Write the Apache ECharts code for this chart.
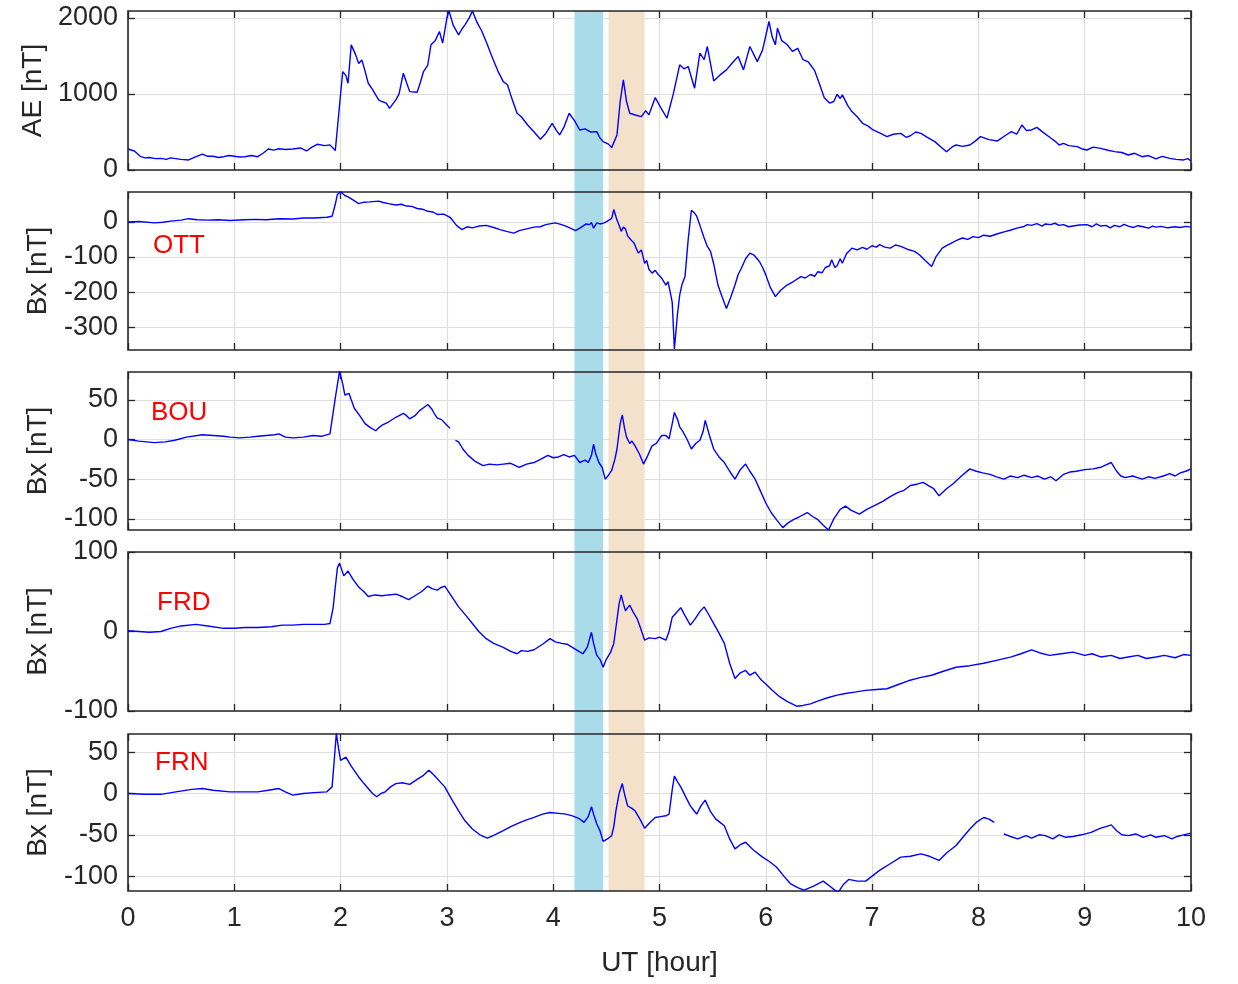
<!DOCTYPE html>
<html><head><meta charset="utf-8">
<script src="https://cdn.jsdelivr.net/npm/echarts@6/dist/echarts.min.js"></script>
<style>html,body{margin:0;padding:0;background:#fff}#c{width:1238px;height:984px}</style>
</head><body><div id="c"></div>
<script>
// ---------------- data ----------------
const AE = [[0,276],[0.06,250],[0.12,175],[0.16,160],[0.2,165],[0.26,150],[0.31,153],[0.36,140],[0.4,160],[0.45,150],[0.5,140],[0.57,132],[0.63,170],[0.70,210],[0.75,180],[0.8,180],[0.85,165],[0.9,175],[0.95,190],[1.0,180],[1.05,170],[1.1,175],[1.16,190],[1.22,175],[1.27,220],[1.32,276],[1.37,262],[1.42,280],[1.48,270],[1.55,276],[1.62,290],[1.68,250],[1.73,300],[1.78,338],[1.85,320],[1.9,330],[1.95,255],[1.98,700],[2.02,1294],[2.05,1240],[2.07,1140],[2.1,1645],[2.14,1520],[2.17,1400],[2.2,1447],[2.23,1300],[2.26,1140],[2.3,1060],[2.33,987],[2.36,920],[2.39,900],[2.43,880],[2.46,811],[2.52,921],[2.55,1000],[2.59,1272],[2.62,1150],[2.65,1030],[2.72,1022],[2.75,1150],[2.78,1294],[2.82,1380],[2.85,1645],[2.89,1700],[2.93,1820],[2.96,1667],[3.0,2000],[3.02,2092],[3.06,1900],[3.11,1776],[3.14,1850],[3.17,1908],[3.21,2000],[3.24,2092],[3.28,1950],[3.33,1820],[3.38,1650],[3.43,1469],[3.48,1300],[3.53,1162],[3.57,1120],[3.6,987],[3.66,746],[3.7,700],[3.76,592],[3.82,500],[3.88,404],[3.93,480],[3.99,614],[4.03,520],[4.06,461],[4.1,560],[4.15,746],[4.2,650],[4.25,526],[4.3,540],[4.35,500],[4.41,504],[4.44,420],[4.47,373],[4.52,340],[4.55,294],[4.60,461],[4.63,900],[4.66,1184],[4.69,900],[4.72,746],[4.78,720],[4.83,702],[4.87,780],[4.9,724],[4.96,952],[5.0,850],[5.07,680],[5.13,1000],[5.19,1382],[5.23,1330],[5.27,1360],[5.33,1075],[5.38,1535],[5.42,1450],[5.45,1623],[5.51,1171],[5.57,1250],[5.63,1316],[5.68,1400],[5.74,1491],[5.79,1316],[5.85,1623],[5.92,1425],[5.97,1579],[6.03,1952],[6.06,1750],[6.09,1645],[6.11,1864],[6.15,1700],[6.2,1650],[6.25,1560],[6.3,1600],[6.35,1450],[6.4,1420],[6.46,1306],[6.5,1150],[6.55,950],[6.6,880],[6.64,900],[6.67,996],[6.7,940],[6.72,987],[6.77,850],[6.81,768],[6.86,700],[6.91,614],[6.96,580],[7.01,526],[7.08,480],[7.14,439],[7.2,470],[7.27,482],[7.32,430],[7.36,450],[7.41,500],[7.46,482],[7.52,430],[7.59,373],[7.65,300],[7.70,241],[7.75,300],[7.79,329],[7.85,310],[7.92,329],[7.97,380],[8.02,439],[8.1,400],[8.18,382],[8.25,450],[8.31,504],[8.36,470],[8.41,592],[8.45,520],[8.5,526],[8.55,560],[8.6,504],[8.68,420],[8.72,380],[8.76,329],[8.8,350],[8.85,320],[8.93,307],[8.97,280],[9.02,263],[9.08,300],[9.15,285],[9.22,260],[9.28,241],[9.35,230],[9.41,197],[9.47,220],[9.54,175],[9.6,190],[9.67,145],[9.73,180],[9.8,153],[9.86,140],[9.93,132],[9.97,150],[10,118]];
const OTT = [[0,0],[0.1,1],[0.25,-3],[0.33,-1],[0.4,2],[0.5,5],[0.57,9],[0.65,6],[0.75,5],[0.85,6],[0.96,4],[1.1,6],[1.2,7],[1.3,6],[1.42,9],[1.55,8],[1.65,11],[1.75,11],[1.87,13],[1.92,16],[1.95,50],[1.97,78],[2.0,86],[2.04,75],[2.07,71],[2.12,62],[2.17,52],[2.22,56],[2.27,57],[2.36,59],[2.4,55],[2.45,52],[2.52,48],[2.57,50],[2.62,45],[2.67,44],[2.72,38],[2.77,36],[2.82,30],[2.87,28],[2.91,21],[2.97,22],[3.03,13],[3.09,-10],[3.14,-22],[3.19,-14],[3.24,-17],[3.3,-12],[3.37,-10],[3.44,-16],[3.5,-22],[3.56,-27],[3.63,-32],[3.68,-25],[3.72,-22],[3.82,-15],[3.88,-14],[3.93,-8],[3.98,-5],[4.02,-3],[4.07,-7],[4.12,-12],[4.16,-18],[4.21,-25],[4.25,-18],[4.28,-12],[4.31,-6],[4.34,-8],[4.36,-2],[4.38,-18],[4.41,-3],[4.44,-6],[4.48,-3],[4.51,2],[4.55,10],[4.57,35],[4.6,5],[4.62,-10],[4.64,-27],[4.66,-15],[4.68,-20],[4.7,-40],[4.73,-51],[4.76,-60],[4.8,-89],[4.83,-80],[4.86,-118],[4.88,-110],[4.9,-135],[4.93,-146],[4.96,-138],[4.99,-151],[5.02,-160],[5.06,-180],[5.08,-170],[5.1,-199],[5.12,-230],[5.14,-362],[5.17,-260],[5.19,-209],[5.21,-180],[5.24,-156],[5.27,-50],[5.3,33],[5.33,25],[5.35,16],[5.38,-10],[5.42,-46],[5.45,-70],[5.48,-84],[5.51,-120],[5.55,-180],[5.59,-215],[5.63,-247],[5.67,-215],[5.71,-180],[5.74,-150],[5.77,-132],[5.81,-105],[5.85,-89],[5.89,-95],[5.94,-113],[5.97,-130],[6.0,-151],[6.04,-185],[6.09,-213],[6.14,-195],[6.2,-180],[6.26,-170],[6.33,-156],[6.37,-160],[6.42,-150],[6.46,-155],[6.49,-142],[6.53,-145],[6.56,-130],[6.6,-125],[6.62,-108],[6.65,-130],[6.67,-125],[6.7,-105],[6.72,-118],[6.76,-90],[6.81,-75],[6.86,-80],[6.91,-73],[6.95,-78],[7.0,-68],[7.04,-72],[7.07,-65],[7.12,-72],[7.17,-75],[7.22,-66],[7.27,-70],[7.33,-78],[7.4,-84],[7.45,-95],[7.5,-110],[7.56,-127],[7.6,-100],[7.66,-75],[7.7,-68],[7.75,-60],[7.8,-52],[7.85,-46],[7.9,-50],[7.95,-42],[8.0,-45],[8.05,-38],[8.11,-41],[8.18,-34],[8.25,-28],[8.3,-24],[8.37,-17],[8.42,-14],[8.46,-8],[8.5,-10],[8.55,-5],[8.6,-12],[8.63,-6],[8.68,-8],[8.72,-4],[8.76,-10],[8.8,-8],[8.85,-14],[8.89,-12],[8.95,-9],[9.02,-8],[9.07,-14],[9.11,-6],[9.15,-12],[9.2,-10],[9.24,-17],[9.28,-10],[9.33,-14],[9.37,-7],[9.41,-12],[9.46,-16],[9.5,-11],[9.55,-14],[9.6,-18],[9.64,-12],[9.67,-15],[9.72,-13],[9.78,-17],[9.85,-14],[9.9,-16],[9.95,-13],[10,-15]];
const BOU = [[0,0],[0.1,-2],[0.25,-4],[0.35,-3],[0.44,-1],[0.55,3],[0.70,6],[0.8,5],[0.9,4],[0.96,3],[1.05,2],[1.15,3],[1.22,4],[1.3,5],[1.38,6],[1.42,7],[1.48,3],[1.55,2],[1.65,3],[1.74,5],[1.82,4],[1.9,7],[1.95,52],[1.99,86],[2.02,70],[2.04,56],[2.08,58],[2.1,50],[2.13,39],[2.18,30],[2.23,20],[2.28,15],[2.33,11],[2.36,15],[2.39,18],[2.45,22],[2.52,28],[2.55,30],[2.59,33],[2.62,30],[2.65,26],[2.7,30],[2.74,36],[2.78,40],[2.82,44],[2.86,38],[2.88,33],[2.91,27],[2.95,25],[3.0,18],[3.03,14],[3.05,'-'],[3.08,-1],[3.11,-3],[3.15,-12],[3.2,-20],[3.27,-28],[3.34,-33],[3.4,-31],[3.47,-32],[3.53,-31],[3.6,-30],[3.68,-35],[3.75,-31],[3.82,-29],[3.88,-25],[3.95,-20],[4.0,-23],[4.05,-22],[4.1,-19],[4.15,-22],[4.2,-20],[4.25,-29],[4.3,-26],[4.33,-29],[4.36,-20],[4.38,-6],[4.4,-18],[4.43,-29],[4.46,-35],[4.49,-50],[4.52,-45],[4.55,-39],[4.58,-25],[4.60,-12],[4.63,20],[4.65,31],[4.67,15],[4.69,3],[4.72,-5],[4.74,-2],[4.77,-8],[4.81,-18],[4.85,-31],[4.89,-20],[4.93,-8],[4.97,-5],[5.02,5],[5.06,5],[5.09,1],[5.12,20],[5.14,34],[5.17,25],[5.19,16],[5.22,10],[5.26,0],[5.3,-12],[5.34,-5],[5.38,-1],[5.41,10],[5.43,24],[5.47,5],[5.51,-12],[5.56,-22],[5.61,-29],[5.66,-40],[5.71,-50],[5.76,-38],[5.81,-31],[5.85,-40],[5.9,-50],[5.95,-65],[6.0,-80],[6.05,-92],[6.1,-101],[6.16,-111],[6.21,-105],[6.26,-101],[6.32,-97],[6.39,-92],[6.44,-97],[6.49,-101],[6.54,-108],[6.59,-114],[6.64,-100],[6.7,-88],[6.75,-84],[6.8,-89],[6.88,-94],[6.95,-88],[7.04,-82],[7.1,-78],[7.17,-72],[7.24,-67],[7.3,-64],[7.36,-58],[7.43,-56],[7.48,-54],[7.53,-58],[7.58,-62],[7.63,-71],[7.7,-62],[7.76,-56],[7.84,-46],[7.92,-37],[7.98,-40],[8.04,-42],[8.11,-44],[8.17,-47],[8.24,-50],[8.3,-46],[8.37,-48],[8.43,-45],[8.5,-48],[8.56,-46],[8.62,-50],[8.68,-47],[8.73,-52],[8.8,-44],[8.86,-41],[8.92,-40],[9.0,-38],[9.08,-37],[9.15,-35],[9.2,-32],[9.25,-29],[9.3,-40],[9.34,-46],[9.38,-48],[9.45,-46],[9.54,-50],[9.6,-47],[9.66,-49],[9.74,-46],[9.8,-43],[9.85,-46],[9.9,-42],[9.95,-40],[10,-37]];
const FRD = [[0,1],[0.1,0],[0.2,-1],[0.31,0],[0.4,4],[0.5,7],[0.64,9],[0.75,7],[0.9,4],[1.0,4],[1.1,5],[1.22,5],[1.35,6],[1.45,8],[1.55,8],[1.65,9],[1.75,9],[1.85,9],[1.9,10],[1.93,30],[1.95,56],[1.97,80],[1.99,86],[2.03,70],[2.07,76],[2.12,65],[2.17,56],[2.22,50],[2.26,44],[2.32,46],[2.39,45],[2.45,46],[2.52,47],[2.58,44],[2.64,40],[2.7,45],[2.76,50],[2.82,57],[2.86,54],[2.91,52],[2.94,55],[2.98,57],[3.04,45],[3.11,31],[3.18,20],[3.24,10],[3.3,0],[3.37,-9],[3.44,-15],[3.53,-20],[3.6,-25],[3.66,-28],[3.7,-24],[3.76,-25],[3.82,-23],[3.9,-16],[3.97,-9],[4.02,-13],[4.08,-15],[4.13,-16],[4.18,-20],[4.23,-24],[4.28,-28],[4.32,-20],[4.36,-1],[4.38,-15],[4.41,-30],[4.44,-35],[4.47,-45],[4.5,-35],[4.54,-26],[4.57,-15],[4.59,5],[4.62,35],[4.64,46],[4.66,35],[4.68,26],[4.7,30],[4.72,33],[4.75,25],[4.79,16],[4.82,5],[4.86,-11],[4.9,-8],[4.96,-9],[5.0,-7],[5.06,-11],[5.09,0],[5.12,18],[5.16,24],[5.2,30],[5.24,20],[5.29,8],[5.33,15],[5.38,25],[5.42,31],[5.46,22],[5.51,10],[5.56,-2],[5.61,-15],[5.66,-40],[5.71,-59],[5.76,-52],[5.81,-49],[5.85,-55],[5.9,-51],[5.95,-60],[6.0,-66],[6.06,-74],[6.13,-82],[6.2,-88],[6.29,-94],[6.35,-93],[6.42,-91],[6.5,-87],[6.59,-83],[6.67,-80],[6.75,-78],[6.85,-76],[6.94,-74],[7.04,-73],[7.14,-72],[7.24,-67],[7.34,-62],[7.45,-58],[7.56,-55],[7.67,-50],[7.79,-45],[7.92,-43],[8.05,-40],[8.18,-36],[8.31,-32],[8.4,-28],[8.5,-23],[8.58,-27],[8.67,-30],[8.78,-28],[8.89,-26],[9.0,-30],[9.07,-28],[9.15,-32],[9.25,-30],[9.33,-34],[9.41,-32],[9.5,-30],[9.58,-34],[9.67,-32],[9.75,-30],[9.85,-33],[9.93,-29],[10,-30]];
const FRN = [[0,0],[0.15,-1],[0.31,-1],[0.45,2],[0.6,5],[0.70,6],[0.8,4],[0.96,2],[1.1,2],[1.22,2],[1.32,4],[1.42,6],[1.48,2],[1.55,-2],[1.65,0],[1.75,1],[1.87,2],[1.92,8],[1.94,40],[1.96,73],[1.98,55],[2.0,40],[2.05,44],[2.1,33],[2.17,20],[2.22,12],[2.26,6],[2.3,0],[2.34,-4],[2.38,0],[2.42,2],[2.47,8],[2.52,12],[2.58,13],[2.65,11],[2.72,17],[2.78,22],[2.83,28],[2.88,22],[2.93,15],[2.98,8],[3.04,-6],[3.11,-21],[3.17,-33],[3.24,-43],[3.31,-50],[3.38,-54],[3.45,-50],[3.53,-45],[3.6,-40],[3.69,-35],[3.75,-32],[3.82,-29],[3.9,-25],[3.97,-23],[4.05,-24],[4.12,-25],[4.18,-27],[4.24,-30],[4.29,-35],[4.33,-28],[4.36,-16],[4.38,-25],[4.41,-37],[4.44,-45],[4.47,-58],[4.51,-55],[4.55,-51],[4.57,-40],[4.59,-21],[4.62,0],[4.65,12],[4.67,0],[4.7,-15],[4.74,-18],[4.77,-21],[4.82,-32],[4.86,-42],[4.91,-35],[4.96,-29],[5.01,-28],[5.06,-27],[5.09,-25],[5.12,5],[5.14,21],[5.17,14],[5.2,8],[5.25,-5],[5.29,-15],[5.32,-20],[5.35,-25],[5.39,-15],[5.43,-8],[5.48,-22],[5.53,-31],[5.57,-35],[5.61,-39],[5.66,-55],[5.71,-67],[5.76,-62],[5.81,-59],[5.88,-68],[5.97,-77],[6.03,-82],[6.1,-89],[6.17,-100],[6.23,-109],[6.3,-114],[6.36,-117],[6.45,-112],[6.54,-106],[6.6,-112],[6.64,-116],[6.68,-120],[6.73,-110],[6.78,-104],[6.86,-106],[6.94,-106],[7.0,-100],[7.07,-93],[7.17,-85],[7.27,-77],[7.36,-76],[7.46,-73],[7.54,-76],[7.63,-81],[7.7,-72],[7.79,-63],[7.86,-52],[7.92,-43],[7.98,-35],[8.05,-29],[8.1,-31],[8.15,-35],[8.2,'-'],[8.24,-49],[8.3,-52],[8.37,-55],[8.45,-51],[8.5,-54],[8.57,-50],[8.63,-51],[8.7,-55],[8.76,-50],[8.82,-53],[8.89,-52],[8.97,-50],[9.06,-47],[9.15,-42],[9.2,-40],[9.25,-38],[9.3,-45],[9.35,-50],[9.41,-51],[9.48,-49],[9.55,-53],[9.62,-50],[9.67,-53],[9.75,-51],[9.82,-55],[9.87,-52],[9.93,-50],[10,-48]];

const hourTicks = [0,1,2,3,4,5,6,7,8,9,10];
const aeTicks  = [0,1000,2000];
const ottTicks = [-300,-200,-100,0];
const bouTicks = [-100,-50,0,50];
const frdTicks = [-100,0,100];
const frnTicks = [-100,-50,0,50];
const yRanges  = [[0,2090],[-365,85],[-114,85],[-100,100],[-118,72]];
const yNames   = ['AE [nT]','Bx [nT]','Bx [nT]','Bx [nT]','Bx [nT]'];
const stations = ['OTT','BOU','FRD','FRN'];
const bands    = [[4.20,4.47],[4.52,4.86]];
const xName    = 'UT [hour]';

// ---------------- layout / style ----------------
const FF = 'Liberation Sans, Arial, Helvetica, sans-serif';
const TXT = '#262626';
const L = 128, R = 47;
const panelTop = [11,192,372,552,734];
const panelH   = [159,158,158,159,157];
const nameGaps = [80,76,76,76,76];
const bandColors = ['#aadbe8','#f3e1cc'];
const stationPos = [[153,233],[151,400],[157,590],[155,750]];

const seriesData = [AE,OTT,BOU,FRD,FRN];
const tickSets = [aeTicks,ottTicks,bouTicks,frdTicks,frnTicks];

const grids=[], xAxes=[], yAxes=[], series=[];
grids.push({left:L,right:R,top:panelTop[0],bottom:984-(panelTop[4]+panelH[4]),show:false});
xAxes.push({gridIndex:0,type:'value',min:0,max:10,show:false});
yAxes.push({gridIndex:0,type:'value',min:0,max:1,show:false});
series.push({type:'line',xAxisIndex:0,yAxisIndex:0,data:[[0,0]],showSymbol:false,silent:true,z:0,
  lineStyle:{opacity:0},
  markArea:{silent:true,data:bands.map((b,i)=>[{xAxis:b[0],itemStyle:{color:bandColors[i]}},{xAxis:b[1]}])}});

const tickStyle = {show:true,inside:true,length:7,lineStyle:{color:TXT,width:1.3}};
for (let i=0;i<5;i++){
  const gi=i+1, last=(i===4), ticks=tickSets[i];
  grids.push({left:L,right:R,top:panelTop[i],height:panelH[i],show:true,borderColor:TXT,borderWidth:1.6,backgroundColor:'transparent',z:3});
  xAxes.push({gridIndex:gi,type:'value',min:0,max:10,interval:1,position:'bottom',
    axisLine:{show:false,onZero:false},axisTick:tickStyle,
    axisLabel:{show:last,customValues:hourTicks,fontSize:27,color:TXT,margin:14,fontFamily:FF,formatter:v=>String(v)},
    splitLine:{show:true,lineStyle:{color:'#dedede',width:1.2}},
    name:last?xName:'',nameLocation:'middle',nameGap:58,nameTextStyle:{fontSize:28,color:TXT,fontFamily:FF}});
  xAxes.push({gridIndex:gi,type:'value',min:0,max:10,interval:1,position:'top',
    axisLine:{show:false,onZero:false},axisTick:tickStyle,axisLabel:{show:false},splitLine:{show:false}});
  yAxes.push({gridIndex:gi,type:'value',min:yRanges[i][0],max:yRanges[i][1],position:'left',
    axisLine:{show:false,onZero:false},
    axisTick:Object.assign({customValues:ticks},tickStyle),
    axisLabel:{customValues:ticks,fontSize:27,color:TXT,margin:10,fontFamily:FF,formatter:v=>String(v)},
    splitLine:{show:true,lineStyle:{color:'#dedede',width:1.2}},
    name:yNames[i],nameLocation:'middle',nameGap:nameGaps[i],nameRotate:90,
    nameTextStyle:{fontSize:28,color:TXT,fontFamily:FF}});
  yAxes.push({gridIndex:gi,type:'value',min:yRanges[i][0],max:yRanges[i][1],position:'right',
    axisLine:{show:false,onZero:false},axisTick:Object.assign({customValues:ticks},tickStyle),
    axisLabel:{show:false},splitLine:{show:false}});
  series.push({type:'line',xAxisIndex:2*i+1,yAxisIndex:2*i+1,data:seriesData[i],
    showSymbol:false,connectNulls:false,clip:true,z:5,
    lineStyle:{color:'#0000ff',width:1.4}});
}

const titles = stations.map((s,i)=>({text:s,left:stationPos[i][0],top:stationPos[i][1],padding:0,
  textStyle:{color:'#ff0000',fontSize:26,fontWeight:'normal',fontFamily:FF}}));

const chart = echarts.init(document.getElementById('c'));
chart.setOption({animation:false,backgroundColor:'#fff',title:titles,grid:grids,xAxis:xAxes,yAxis:yAxes,series:series});
</script></body></html>
